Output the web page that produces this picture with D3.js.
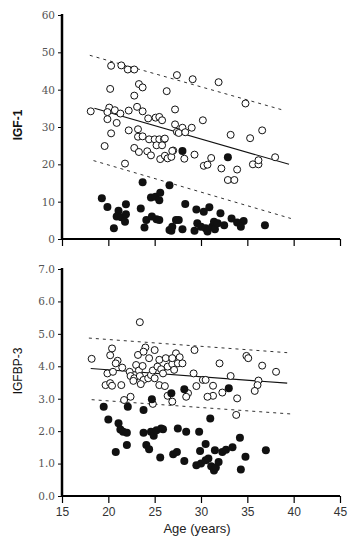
<!DOCTYPE html>
<html>
<head>
<meta charset="utf-8">
<script src="https://cdn.jsdelivr.net/npm/d3@7"></script>
<style>
  body { margin: 0; background: #fff; }
  svg { display: block; }
  .tick-y text { font-family: "DejaVu Serif", serif; font-size: 10.5px; fill: #555; }
  .tick-x text { font-family: "Liberation Sans", Arial, sans-serif; font-size: 12px; fill: #333; }
</style>
</head>
<body>
<svg id="chart" width="360" height="538"></svg>
<script>
// ---- data (age, value) ----
const igfOpen = [
  [18.1,34.2],[20.3,46.4],[21.4,46.5],[22.1,45.4],[22.8,45.4],[20.2,40.2],[23.3,41.5],[23.7,40.6],
  [26.3,39.6],[22.8,38.4],[20.1,35.2],[19.9,34.0],[20.7,34.5],[21.3,33.6],[22.2,34.4],[23.1,35.4],
  [23.7,34.2],[19.9,32.1],[20.9,31.1],[20.3,28.3],[19.6,24.9],[22.2,29.1],[23.2,29.4],[23.2,27.4],
  [23.7,27.5],[24.3,32.3],[25.1,32.5],[25.5,32.7],[25.8,31.8],[27.2,34.7],[27.2,30.7],[27.4,28.7],
  [24.4,26.7],[25.0,26.7],[25.5,26.7],[26.0,26.7],[25.2,25.1],[25.8,25.1],[26.1,26.9],[22.8,24.4],
  [23.3,23.3],[24.2,23.5],[24.6,22.4],[25.6,21.4],[26.1,22.3],[26.4,21.6],[26.8,22.0],[27.0,23.7],
  [21.8,20.2],[27.4,43.9],[29.1,42.8],[31.9,42.0],[34.8,36.3],[30.2,31.8],[28.0,29.8],[29.0,29.8],
  [27.6,28.4],[28.3,28.6],[33.2,27.9],[35.3,27.0],[36.6,29.1],[26.9,23.6],[28.2,21.5],[29.3,22.6],
  [31.1,21.7],[30.3,19.6],[30.7,19.9],[32.2,18.9],[33.9,18.6],[32.9,15.8],[33.6,15.8],[35.6,20.0],
  [36.2,20.0],[36.2,21.1],[38.0,21.9]
];
const igfFilled = [
  [19.3,10.9],[19.9,8.6],[21.1,7.6],[21.9,9.3],[20.9,6.0],[21.4,5.8],[21.9,6.6],[21.8,4.6],
  [20.6,2.9],[23.7,15.2],[23.5,8.2],[24.6,11.1],[25.1,11.3],[25.6,12.4],[25.5,10.4],[24.1,5.1],
  [24.7,6.0],[25.2,5.3],[25.5,5.1],[23.9,3.1],[26.6,14.4],[26.8,2.2],[27.3,5.1],[26.6,2.4],
  [28.0,23.6],[32.9,21.9],[28.3,9.4],[29.5,7.9],[30.3,7.3],[30.9,8.5],[32.1,6.9],[33.3,5.5],
  [34.6,4.8],[36.9,3.7],[27.6,5.1],[26.9,3.3],[28.0,2.6],[29.3,2.2],[29.6,4.2],[30.0,3.3],
  [30.5,2.9],[30.7,2.0],[31.2,3.3],[31.4,4.6],[31.5,2.6],[31.8,4.2],[32.5,3.7],[33.9,4.4],[34.3,3.3]
];
const igfLines = [
  { dash: false, pts: [[18.5,35.0],[39.5,20.0]] },
  { dash: true,  pts: [[18.0,49.2],[38.9,34.5]] },
  { dash: true,  pts: [[18.4,21.0],[39.7,5.5]] }
];

const bpOpen = [
  [23.4,5.36],[18.2,4.23],[20.4,4.55],[20.2,4.34],[21.0,4.17],[20.8,4.09],[19.9,3.78],[20.5,3.83],
  [19.7,3.42],[20.2,3.48],[20.4,3.40],[21.4,3.42],[21.5,3.96],[22.3,3.83],[22.4,3.70],[23.0,4.04],
  [23.3,3.87],[23.7,4.01],[23.2,4.35],[24.0,4.58],[23.8,4.45],[25.0,4.50],[24.4,4.25],[22.8,3.63],
  [23.4,3.70],[23.8,3.58],[24.3,3.63],[22.7,3.55],[23.5,3.45],[24.6,3.73],[25.0,3.63],[24.8,3.87],
  [25.3,3.99],[25.5,4.20],[25.7,3.91],[25.9,3.78],[26.2,4.25],[26.4,3.99],[25.5,3.42],[26.1,3.39],
  [27.3,4.40],[26.9,4.07],[27.1,3.89],[22.4,3.06],[21.7,2.96],[24.8,2.84],[26.4,3.09],[26.9,2.91],
  [29.3,4.50],[27.7,4.28],[26.9,4.25],[27.5,4.09],[28.0,4.09],[29.2,3.78],[32.0,4.09],[34.9,4.32],
  [35.1,4.25],[36.6,4.02],[38.1,3.83],[33.2,3.70],[30.2,3.58],[30.5,3.58],[36.2,3.56],[36.1,3.42],
  [35.8,3.24],[29.5,3.39],[31.3,3.40],[31.3,3.09],[30.7,3.06],[32.3,3.19],[33.9,3.01],[28.6,3.17],
  [28.4,3.06],[33.8,2.50]
];
const bpFilled = [
  [19.5,2.75],[20.0,2.36],[21.1,2.24],[21.3,2.05],[21.6,1.98],[22.0,1.95],[20.8,1.36],[22.0,1.57],
  [22.1,2.75],[23.8,2.65],[23.8,1.95],[24.6,1.98],[24.9,1.86],[25.2,2.03],[25.7,2.08],[25.9,2.06],
  [24.7,2.98],[24.1,1.57],[24.4,1.44],[25.6,1.19],[26.8,3.17],[27.0,1.29],[27.4,1.36],[27.5,2.08],
  [28.2,3.29],[31.0,2.39],[33.0,3.32],[28.4,1.98],[29.8,1.98],[34.2,1.80],[37.0,1.41],[28.2,1.08],
  [29.9,1.39],[30.5,1.60],[31.5,1.41],[32.3,1.36],[32.7,1.43],[33.4,1.50],[34.8,1.21],[29.5,0.95],
  [30.0,1.00],[30.5,1.10],[30.8,1.16],[31.1,0.92],[31.4,0.79],[31.6,0.88],[31.9,1.05],[34.3,0.82]
];
const bpLines = [
  { dash: false, pts: [[18.1,3.93],[39.3,3.48]] },
  { dash: true,  pts: [[17.9,4.87],[39.3,4.42]] },
  { dash: true,  pts: [[18.2,2.97],[39.7,2.53]] }
];

const ageTicks = [15, 20, 25, 30, 35, 40, 45];
const igfTicks = [0, 10, 20, 30, 40, 50, 60];
const bpTicks = [0, 1, 2, 3, 4, 5, 6, 7];

// ---- layout ----
const svg = d3.select("#chart");
const x = d3.scaleLinear().domain([15, 45]).range([62, 340]);

const drawPanel = (cfg) => {
  const y = d3.scaleLinear().domain(cfg.domain).range([cfg.bottom, cfg.top]);
  const g = svg.append("g");

  // x axis
  const xAxis = d3.axisBottom(x).tickValues(ageTicks).tickSize(7).tickPadding(4)
    .tickFormat(cfg.xLabels ? d3.format("d") : "");
  g.append("g")
    .attr("class", "tick-x")
    .attr("transform", `translate(0,${cfg.bottom})`)
    .call(xAxis)
    .call(a => a.select(".domain").attr("stroke-width", 2).attr("d", `M${x(15)},0H${x(45)}`))
    .call(a => a.selectAll(".tick line").attr("stroke-width", 1.2));

  // y axis
  const yAxis = d3.axisLeft(y).tickValues(cfg.ticks).tickSize(4).tickPadding(3)
    .tickFormat(cfg.fmt);
  g.append("g")
    .attr("class", "tick-y")
    .attr("transform", `translate(${x(15)},0)`)
    .call(yAxis)
    .call(a => a.select(".domain").attr("stroke-width", 2.5).attr("d", `M0,${cfg.bottom}V${cfg.top - 1}`));

  // lines
  g.selectAll(".fit")
    .data(cfg.lines)
    .join("line")
      .attr("class", "fit")
      .attr("x1", d => x(d.pts[0][0]))
      .attr("y1", d => y(d.pts[0][1]))
      .attr("x2", d => x(d.pts[1][0]))
      .attr("y2", d => y(d.pts[1][1]))
      .attr("stroke", d => d.dash ? "#333" : "#111")
      .attr("stroke-width", d => d.dash ? 1 : 1.1)
      .attr("stroke-dasharray", d => d.dash ? "3,4" : null);

  // open circles
  g.selectAll(".open")
    .data(cfg.open)
    .join("circle")
      .attr("class", "open")
      .attr("cx", d => x(d[0]))
      .attr("cy", d => y(d[1]))
      .attr("r", 3.5)
      .attr("fill", "#fff")
      .attr("stroke", "#111")
      .attr("stroke-width", 1);

  // filled circles
  g.selectAll(".filled")
    .data(cfg.filled)
    .join("circle")
      .attr("class", "filled")
      .attr("cx", d => x(d[0]))
      .attr("cy", d => y(d[1]))
      .attr("r", 4)
      .attr("fill", "#111");

  // y title
  svg.append("text")
    .attr("transform", `translate(22,${cfg.titleY}) rotate(-90)`)
    .attr("text-anchor", "middle")
    .style("font-family", "Liberation Sans, Arial, sans-serif")
    .style("font-size", "12px")
    .style("font-weight", cfg.bold ? "bold" : "normal")
    .attr("fill", "#111")
    .text(cfg.title);
};

drawPanel({
  domain: [0, 60], top: 15, bottom: 239, ticks: igfTicks, fmt: d3.format("d"),
  open: igfOpen, filled: igfFilled, lines: igfLines,
  title: "IGF-1", titleY: 125, bold: true, xLabels: false
});

drawPanel({
  domain: [0, 7], top: 269, bottom: 496, ticks: bpTicks, fmt: d3.format(".1f"),
  open: bpOpen, filled: bpFilled, lines: bpLines,
  title: "IGFBP-3", titleY: 371, bold: false, xLabels: true
});

svg.append("text")
  .attr("x", 197)
  .attr("y", 533)
  .attr("text-anchor", "middle")
  .style("font-family", "Liberation Sans, Arial, sans-serif")
  .style("font-size", "13px")
  .attr("fill", "#222")
  .text("Age (years)");
</script>
</body>
</html>
